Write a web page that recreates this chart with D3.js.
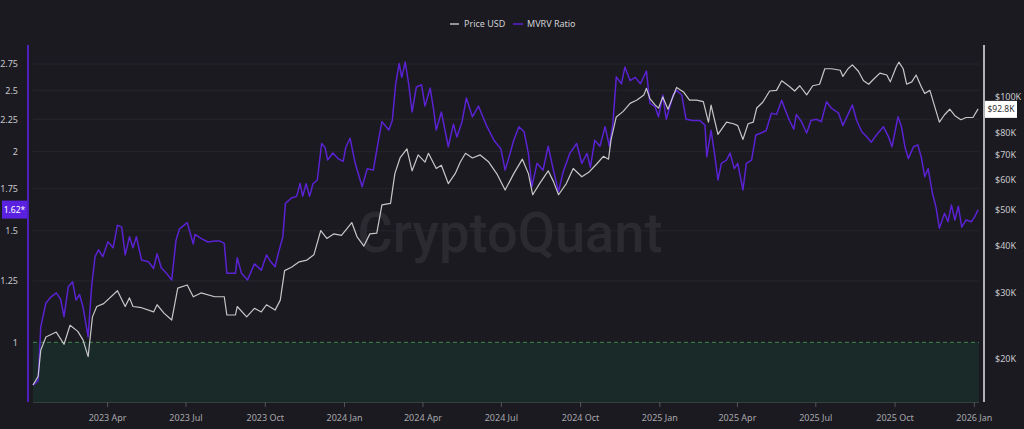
<!DOCTYPE html>
<html><head><meta charset="utf-8">
<script src="https://cdn.jsdelivr.net/npm/d3@7"></script>
<style>html,body{margin:0;padding:0;background:#1b1a20;overflow:hidden} svg{display:block}</style>
</head><body><svg id="c" width="1024" height="429"></svg>
<script>
// ---- DATA ----
const mvrvDates = ["2023-01-05","2023-01-11","2023-01-14","2023-01-20","2023-01-26","2023-02-01","2023-02-06","2023-02-10","2023-02-15","2023-02-20","2023-02-24","2023-02-28","2023-03-04","2023-03-10","2023-03-14","2023-03-18","2023-03-22","2023-03-27","2023-04-02","2023-04-08","2023-04-13","2023-04-18","2023-04-22","2023-04-27","2023-05-01","2023-05-05","2023-05-11","2023-05-19","2023-05-25","2023-05-29","2023-06-03","2023-06-09","2023-06-15","2023-06-20","2023-06-24","2023-07-03","2023-07-10","2023-07-12","2023-07-19","2023-07-27","2023-08-04","2023-08-10","2023-08-15","2023-08-18","2023-08-28","2023-08-30","2023-09-04","2023-09-11","2023-09-19","2023-09-27","2023-10-03","2023-10-08","2023-10-13","2023-10-17","2023-10-22","2023-10-25","2023-11-01","2023-11-07","2023-11-11","2023-11-14","2023-11-18","2023-11-22","2023-11-26","2023-12-01","2023-12-06","2023-12-10","2023-12-13","2023-12-19","2023-12-25","2023-12-31","2024-01-03","2024-01-08","2024-01-14","2024-01-22","2024-01-28","2024-02-04","2024-02-10","2024-02-14","2024-02-22","2024-02-26","2024-03-01","2024-03-05","2024-03-08","2024-03-12","2024-03-16","2024-03-20","2024-03-25","2024-03-31","2024-04-04","2024-04-10","2024-04-14","2024-04-17","2024-04-23","2024-05-01","2024-05-07","2024-05-11","2024-05-17","2024-05-22","2024-05-29","2024-06-05","2024-06-15","2024-06-23","2024-07-01","2024-07-06","2024-07-10","2024-07-16","2024-07-22","2024-07-28","2024-08-02","2024-08-06","2024-08-12","2024-08-19","2024-08-25","2024-08-31","2024-09-06","2024-09-11","2024-09-19","2024-09-27","2024-10-03","2024-10-09","2024-10-13","2024-10-18","2024-10-24","2024-10-30","2024-11-04","2024-11-08","2024-11-12","2024-11-18","2024-11-22","2024-11-28","2024-12-04","2024-12-10","2024-12-17","2024-12-21","2024-12-27","2024-12-31","2025-01-05","2025-01-09","2025-01-17","2025-01-21","2025-01-27","2025-02-01","2025-02-09","2025-02-17","2025-02-23","2025-02-25","2025-03-02","2025-03-06","2025-03-10","2025-03-14","2025-03-20","2025-03-24","2025-03-29","2025-04-02","2025-04-08","2025-04-12","2025-04-18","2025-04-23","2025-04-29","2025-05-05","2025-05-11","2025-05-17","2025-05-23","2025-05-27","2025-06-01","2025-06-06","2025-06-09","2025-06-15","2025-06-21","2025-06-26","2025-07-02","2025-07-08","2025-07-14","2025-07-20","2025-07-28","2025-08-02","2025-08-08","2025-08-13","2025-08-18","2025-08-24","2025-08-30","2025-09-04","2025-09-10","2025-09-18","2025-09-24","2025-09-28","2025-10-05","2025-10-09","2025-10-13","2025-10-17","2025-10-23","2025-10-28","2025-11-01","2025-11-05","2025-11-09","2025-11-14","2025-11-18","2025-11-22","2025-11-28","2025-12-02","2025-12-06","2025-12-10","2025-12-14","2025-12-18","2025-12-23","2025-12-29","2026-01-02","2026-01-06"];
const mvrvValues = [0.856,0.87,1.058,1.154,1.18,1.197,1.17,1.098,1.224,1.246,1.166,1.19,1.138,1.02,1.224,1.365,1.40,1.365,1.441,1.41,1.531,1.52,1.374,1.468,1.41,1.468,1.349,1.34,1.308,1.38,1.31,1.285,1.254,1.45,1.51,1.545,1.43,1.48,1.459,1.44,1.445,1.445,1.433,1.285,1.285,1.36,1.285,1.254,1.33,1.30,1.374,1.34,1.316,1.387,1.468,1.657,1.69,1.70,1.782,1.70,1.78,1.70,1.78,1.804,2.06,2.03,1.94,1.99,1.95,1.93,2.03,2.10,1.917,1.76,1.88,1.87,2.085,2.23,2.163,2.24,2.56,2.755,2.62,2.77,2.56,2.31,2.53,2.55,2.36,2.52,2.33,2.163,2.31,2.036,2.21,2.11,2.23,2.43,2.27,2.36,2.19,2.085,2.02,1.87,1.95,2.085,2.19,2.15,1.987,1.76,1.917,1.87,2.04,1.87,1.73,1.85,1.987,2.06,1.917,1.987,1.89,2.085,2.04,2.19,2.04,2.21,2.625,2.56,2.72,2.59,2.62,2.56,2.68,2.385,2.355,2.27,2.457,2.25,2.457,2.5,2.457,2.25,2.24,2.24,2.202,1.963,2.16,1.987,1.804,1.917,1.94,1.99,1.88,1.917,1.74,1.917,1.94,2.125,2.14,2.16,2.30,2.29,2.41,2.33,2.24,2.17,2.29,2.23,2.14,2.24,2.25,2.23,2.397,2.34,2.30,2.20,2.29,2.37,2.24,2.15,2.11,2.07,2.125,2.19,2.11,2.036,2.27,2.19,2.036,1.95,2.036,2.05,1.96,1.826,1.88,1.718,1.636,1.514,1.598,1.55,1.647,1.56,1.64,1.52,1.56,1.55,1.578,1.62];

const priceDates = ["2023-01-05","2023-01-11","2023-01-14","2023-01-20","2023-02-01","2023-02-10","2023-02-17","2023-02-26","2023-03-04","2023-03-10","2023-03-15","2023-03-20","2023-03-28","2023-04-13","2023-04-22","2023-04-27","2023-05-01","2023-05-11","2023-05-25","2023-05-29","2023-06-06","2023-06-15","2023-06-22","2023-07-03","2023-07-10","2023-07-19","2023-08-04","2023-08-15","2023-08-18","2023-08-28","2023-08-30","2023-09-10","2023-09-19","2023-09-27","2023-10-03","2023-10-13","2023-10-19","2023-10-24","2023-11-01","2023-11-10","2023-11-19","2023-11-27","2023-12-05","2023-12-12","2023-12-20","2023-12-29","2024-01-03","2024-01-10","2024-01-16","2024-01-24","2024-01-31","2024-02-08","2024-02-14","2024-02-24","2024-02-29","2024-03-06","2024-03-14","2024-03-20","2024-03-27","2024-04-04","2024-04-08","2024-04-17","2024-04-23","2024-05-01","2024-05-09","2024-05-15","2024-05-21","2024-05-29","2024-06-07","2024-06-17","2024-06-27","2024-07-06","2024-07-16","2024-07-26","2024-08-02","2024-08-07","2024-08-15","2024-08-25","2024-08-31","2024-09-06","2024-09-15","2024-09-23","2024-10-03","2024-10-11","2024-10-20","2024-10-28","2024-11-03","2024-11-06","2024-11-12","2024-11-20","2024-11-28","2024-12-06","2024-12-14","2024-12-17","2024-12-21","2024-12-27","2024-12-31","2025-01-05","2025-01-11","2025-01-21","2025-01-29","2025-02-05","2025-02-13","2025-02-21","2025-02-27","2025-03-02","2025-03-10","2025-03-20","2025-03-28","2025-04-02","2025-04-08","2025-04-14","2025-04-20","2025-04-24","2025-05-01","2025-05-09","2025-05-17","2025-05-23","2025-06-01","2025-06-07","2025-06-13","2025-06-21","2025-06-28","2025-07-06","2025-07-12","2025-07-20","2025-07-30","2025-08-02","2025-08-08","2025-08-13","2025-08-20","2025-08-26","2025-09-01","2025-09-06","2025-09-14","2025-09-22","2025-09-26","2025-10-03","2025-10-06","2025-10-11","2025-10-15","2025-10-21","2025-10-26","2025-11-01","2025-11-05","2025-11-11","2025-11-16","2025-11-22","2025-11-28","2025-12-04","2025-12-10","2025-12-17","2025-12-23","2025-12-31","2026-01-06"];
const priceValues = [16.97,17.9,21.0,22.8,23.5,21.8,24.5,23.6,22.4,20.2,25.8,27.5,28.0,30.3,27.5,29.0,27.5,27.3,26.6,27.8,26.4,25.3,30.8,31.4,29.2,29.9,29.2,29.2,26.1,26.1,27.5,25.8,27.2,26.6,27.8,26.9,28.6,34.3,35.0,36.2,36.6,37.8,43.9,41.8,43.0,42.6,44.0,46.1,42.3,39.9,43.0,43.2,51.4,51.9,62.3,68.6,72.6,63.4,69.9,66.9,70.6,64.3,65.6,58.6,62.3,66.9,70.6,68.6,69.9,66.9,61.9,56.3,62.3,68.1,62.3,54.7,58.6,63.4,59.4,54.7,58.6,64.3,61.1,62.8,66.0,69.3,68.1,76.9,88.3,91.4,96.0,98.0,101.1,105.3,98.9,95.1,93.2,99.9,92.6,105.9,103.0,97.9,97.9,97.0,85.5,95.0,79.3,85.5,84.7,83.7,76.9,84.7,85.5,93.3,96.7,103.6,104.0,110.3,106.5,103.6,107.0,101.2,107.0,108.0,118.8,118.8,117.7,113.3,118.8,121.7,117.0,110.3,108.0,111.0,115.6,114.3,109.6,120.3,123.7,118.8,108.0,109.6,114.3,106.3,102.0,104.0,95.1,85.5,89.5,92.6,89.0,86.8,88.0,88.0,92.8];

const mvrvTicks = [1, 1.25, 1.5, 1.75, 2, 2.25, 2.5, 2.75];
const priceTicks = [20, 30, 40, 50, 60, 70, 80, 100];
const xTickDates = ["2023-04-01","2023-07-01","2023-10-01","2024-01-01","2024-04-01","2024-07-01","2024-10-01","2025-01-01","2025-04-01","2025-07-01","2025-10-01","2026-01-01"];
const xTickLabels = ["2023 Apr","2023 Jul","2023 Oct","2024 Jan","2024 Apr","2024 Jul","2024 Oct","2025 Jan","2025 Apr","2025 Jul","2025 Oct","2026 Jan"];
const seriesNames = ["Price USD", "MVRV Ratio"];
const lastMvrvLabel = "1.62*";
const lastPriceLabel = "$92.8K";
const domainDates = ["2023-01-05","2026-01-07"];
const mvrvDomain = [0.805, 2.947];
const priceDomain = [15.28, 137.5];

// ---- DRAW ----
const parse = d3.timeParse("%Y-%m-%d");
const svg = d3.select("#c");
const X0 = 33, X1 = 979, YT = 45, YB = 402;
const FONT = "'Noto Sans', 'Open Sans', sans-serif";
const PURPLE = "#5a22d2", WHITE = "#d6d6d6";

svg.append("rect").attr("width",1024).attr("height",429).attr("fill","#1b1a20");

const x = d3.scaleTime().domain(domainDates.map(parse)).range([X0, X1]);
const yM = d3.scaleLog().domain(mvrvDomain).range([YB, YT]);
const yP = d3.scaleLog().domain(priceDomain).range([YB, YT]);

// gridlines
svg.append("g").selectAll("line").data(mvrvTicks.filter(t=>t!==1)).join("line")
  .attr("x1",X0).attr("x2",X1).attr("y1",d=>yM(d)).attr("y2",d=>yM(d))
  .attr("stroke","#27262d").attr("stroke-width",1);

// green zone below MVRV 1
svg.append("rect").attr("x",X0).attr("width",X1-X0)
  .attr("y",yM(1)).attr("height",YB-yM(1)).attr("fill","#192a28");
svg.append("line").attr("x1",X0).attr("x2",X1).attr("y1",yM(1)).attr("y2",yM(1))
  .attr("stroke","#3f8a4c").attr("stroke-width",1).attr("stroke-dasharray","4,3");
svg.append("line").attr("x1",X0).attr("x2",X1).attr("y1",YB+0.5).attr("y2",YB+0.5)
  .attr("stroke","#34403e").attr("stroke-width",1);

// watermark
svg.append("text").attr("x",510).attr("y",252).attr("text-anchor","middle")
  .attr("font-family","Roboto, 'Noto Sans', sans-serif").attr("font-weight",500)
  .attr("font-size",56).attr("fill","#2b2a31").attr("textLength",305)
  .attr("lengthAdjust","spacingAndGlyphs").text("CryptoQuant");

// lines
const mvrvData = mvrvDates.map((d,i)=>({d:parse(d), v:mvrvValues[i]}));
const priceData = priceDates.map((d,i)=>({d:parse(d), v:priceValues[i]}));
svg.append("path").datum(mvrvData)
  .attr("d", d3.line().x(d=>x(d.d)).y(d=>yM(d.v)))
  .attr("fill","none").attr("stroke",PURPLE).attr("stroke-width",1.5).attr("stroke-linejoin","round");
svg.append("path").datum(priceData)
  .attr("d", d3.line().x(d=>x(d.d)).y(d=>yP(d.v)))
  .attr("fill","none").attr("stroke",WHITE).attr("stroke-width",1.2).attr("stroke-linejoin","round").attr("opacity",0.92);

// left axis
const gL = svg.append("g").attr("transform","translate(18,0)")
  .call(d3.axisLeft(yM).tickValues(mvrvTicks).tickFormat(d=>String(d)).tickSize(0).tickPadding(0));
gL.select(".domain").remove();
gL.selectAll("text").attr("fill","#c8c8cc").attr("font-family",FONT).attr("font-size",9);
svg.append("line").attr("x1",28).attr("x2",28).attr("y1",YT).attr("y2",YB)
  .attr("stroke","#4e1fc0").attr("stroke-width",2);

// right axis
const gR = svg.append("g").attr("transform","translate(995,0)")
  .call(d3.axisRight(yP).tickValues(priceTicks).tickFormat(d=>"$"+d+"K").tickSize(0).tickPadding(0));
gR.select(".domain").remove();
gR.selectAll("text").attr("fill","#c8c8cc").attr("font-family",FONT).attr("font-size",9);
svg.append("line").attr("x1",984).attr("x2",984).attr("y1",YT).attr("y2",YB)
  .attr("stroke","#e6e6e6").attr("stroke-width",1.5);

// bottom axis
const gB = svg.append("g").attr("transform",`translate(0,${YB})`)
  .call(d3.axisBottom(x).tickValues(xTickDates.map(parse))
    .tickFormat((d,i)=>xTickLabels[i]).tickSize(5).tickPadding(8));
gB.select(".domain").remove();
gB.selectAll("line").attr("stroke","#555560");
gB.selectAll("text").attr("fill","#a8a8ae").attr("font-family",FONT).attr("font-size",9);

// badges
const lastM = mvrvData[mvrvData.length-1];
svg.append("rect").attr("x",2).attr("y",yM(lastM.v)-9).attr("width",25).attr("height",18).attr("fill","#5a22e0");
svg.append("text").attr("x",14.5).attr("y",yM(lastM.v)).attr("dy","0.35em").attr("text-anchor","middle")
  .attr("fill","#ffffff").attr("font-family",FONT).attr("font-size",8.5).text(lastMvrvLabel);
const lastP = priceData[priceData.length-1];
svg.append("rect").attr("x",985).attr("y",yP(lastP.v)-8).attr("width",32).attr("height",17).attr("fill","#ffffff");
svg.append("text").attr("x",1001).attr("y",yP(lastP.v)+0.5).attr("dy","0.35em").attr("text-anchor","middle")
  .attr("fill","#333333").attr("font-family",FONT).attr("font-size",8.5).text(lastPriceLabel);

// legend
const leg = svg.append("g").attr("font-family",FONT).attr("font-size",9).attr("fill","#cfcfd4");
leg.append("line").attr("x1",450).attr("x2",459).attr("y1",24).attr("y2",24).attr("stroke","#bdbdbd").attr("stroke-width",1.5);
leg.append("text").attr("x",464).attr("y",24).attr("dy","0.35em").text(seriesNames[0]);
leg.append("line").attr("x1",513).attr("x2",523).attr("y1",24).attr("y2",24).attr("stroke",PURPLE).attr("stroke-width",1.5);
leg.append("text").attr("x",527).attr("y",24).attr("dy","0.35em").text(seriesNames[1]);
</script>
</body></html>
